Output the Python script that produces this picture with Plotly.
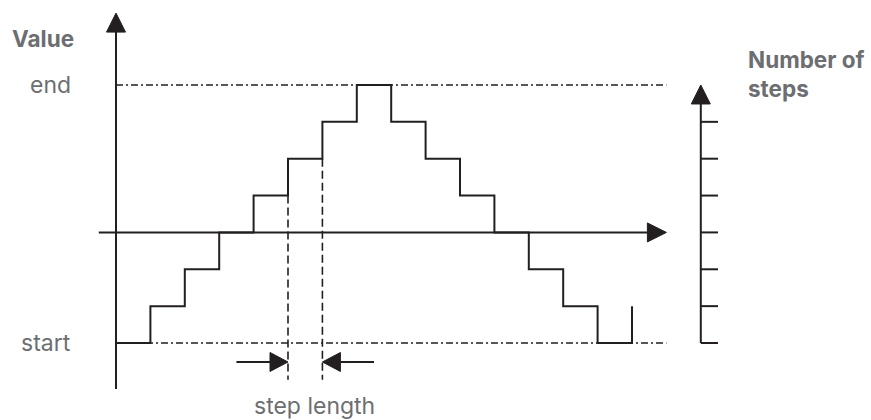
import plotly.graph_objects as go

# step profile: value level held over each step interval
step_index = list(range(16))
step_level = [0, 1, 2, 3, 4, 5, 6, 7, 6, 5, 4, 3, 2, 1, 0, 1]

# value-axis labels
value_labels = ["start", "end"]
value_levels = [0, 7]

# ticks of the "number of steps" scale
step_ticks = [0, 1, 2, 3, 4, 5, 6]

# the step used to show "step length"
marked_steps = [5, 6]
crossing_level = 3

INK = "#231f20"
GREY = "#6d6e71"
FONT = "Inter, Liberation Sans, Arial, sans-serif"

# pixel size of one unit on each axis (canvas 871x420, no margins)
PX_X = 34.4
PX_Y = 36.86
X0_PX, Y0_PX = 116, 343
W, H = 871, 420

x_range = [-X0_PX / PX_X, (W - X0_PX) / PX_X]
y_range = [(Y0_PX - H) / PX_Y, Y0_PX / PX_Y]


def head(tip_x, tip_y, direction, length=19, half=9.5):
    """Filled triangle arrow head, sizes in pixels."""
    lx, ly = length / PX_X, length / PX_Y
    hx, hy = half / PX_X, half / PX_Y
    if direction == "up":
        xs = [tip_x, tip_x - hx, tip_x + hx, tip_x]
        ys = [tip_y, tip_y - ly, tip_y - ly, tip_y]
    elif direction == "right":
        xs = [tip_x, tip_x - lx, tip_x - lx, tip_x]
        ys = [tip_y, tip_y - hy, tip_y + hy, tip_y]
    else:  # left
        xs = [tip_x, tip_x + lx, tip_x + lx, tip_x]
        ys = [tip_y, tip_y - hy, tip_y + hy, tip_y]
    return go.Scatter(x=xs, y=ys, mode="lines", fill="toself", fillcolor=INK,
                      line=dict(color=INK, width=1), hoverinfo="skip")


def seg(xs, ys, width=2, dash=None):
    return go.Scatter(x=xs, y=ys, mode="lines", hoverinfo="skip",
                      line=dict(color=INK, width=width, dash=dash))


fig = go.Figure()

last_step = step_index[-1]
x_end = last_step + 1          # end of the dash-dot guides / time axis tip
right_axis_x = last_step + 2   # position of the number-of-steps scale
top_level = max(step_level)

# dash-dot guides for start and end values
for lvl in value_levels:
    fig.add_trace(seg([0, x_end], [lvl, lvl], width=1.7, dash="7px,3px,2px,3px"))

# dashed markers of one step length
dash_bottom = -1.0
for s in marked_steps:
    fig.add_trace(seg([s, s], [step_level[s - 1], dash_bottom], width=1.6, dash="8px,4px"))

# step profile
fig.add_trace(go.Scatter(x=step_index, y=step_level, mode="lines", line_shape="hv",
                         line=dict(color=INK, width=2), hoverinfo="skip"))

# value axis (vertical, left)
v_bottom, v_tip = -1.25, top_level + 1.95
fig.add_trace(seg([0, 0], [v_bottom, v_tip - 19 / PX_Y]))
fig.add_trace(head(0, v_tip, "up"))

# time axis (horizontal)
h_start = -0.5
fig.add_trace(seg([h_start, x_end - 19 / PX_X], [crossing_level, crossing_level]))
fig.add_trace(head(x_end, crossing_level, "right"))

# number-of-steps scale on the right
fig.add_trace(seg([right_axis_x, right_axis_x], [0, top_level - 19 / PX_Y]))
fig.add_trace(head(right_axis_x, top_level, "up"))
for t in step_ticks:
    fig.add_trace(seg([right_axis_x, right_axis_x + 0.5], [t, t]))

# step-length arrows
arrow_y = -0.515
a, b = marked_steps
fig.add_trace(seg([a - 1.5, a - 18 / PX_X], [arrow_y, arrow_y]))
fig.add_trace(head(a, arrow_y, "right", length=18))
fig.add_trace(seg([b + 1.5, b + 18 / PX_X], [arrow_y, arrow_y]))
fig.add_trace(head(b, arrow_y, "left", length=18))

label_font = dict(family=FONT, size=23, color=GREY)
bold_font = dict(family=FONT, size=22.5, color=GREY, weight="bold")

annotations = [
    dict(x=-1.16, y=8.25, text="Value", xanchor="right", font=bold_font),
    dict(x=(a + b) / 2 + 0.26, y=-1.71, text="step length", xanchor="center", font=label_font),
    dict(x=right_axis_x + 1.31, y=7.3, text="Number of<br>steps", xanchor="left",
         align="left", font=bold_font),
]
for lab, lvl in zip(value_labels, value_levels):
    annotations.append(dict(x=-1.24, y=lvl, text=lab, xanchor="right", font=label_font))

fig.update_layout(
    width=W, height=H,
    margin=dict(l=0, r=0, t=0, b=0),
    paper_bgcolor="white", plot_bgcolor="white",
    showlegend=False,
    xaxis=dict(range=x_range, visible=False, fixedrange=True),
    yaxis=dict(range=y_range, visible=False, fixedrange=True),
    annotations=[dict(ann, xref="x", yref="y", showarrow=False, yanchor="middle")
                 for ann in annotations],
)

# drop the page's default body margin so the canvas sits at the window corner
fig.write_html("out.html", config={"displayModeBar": False},
               post_script="document.body.style.margin='0';")
